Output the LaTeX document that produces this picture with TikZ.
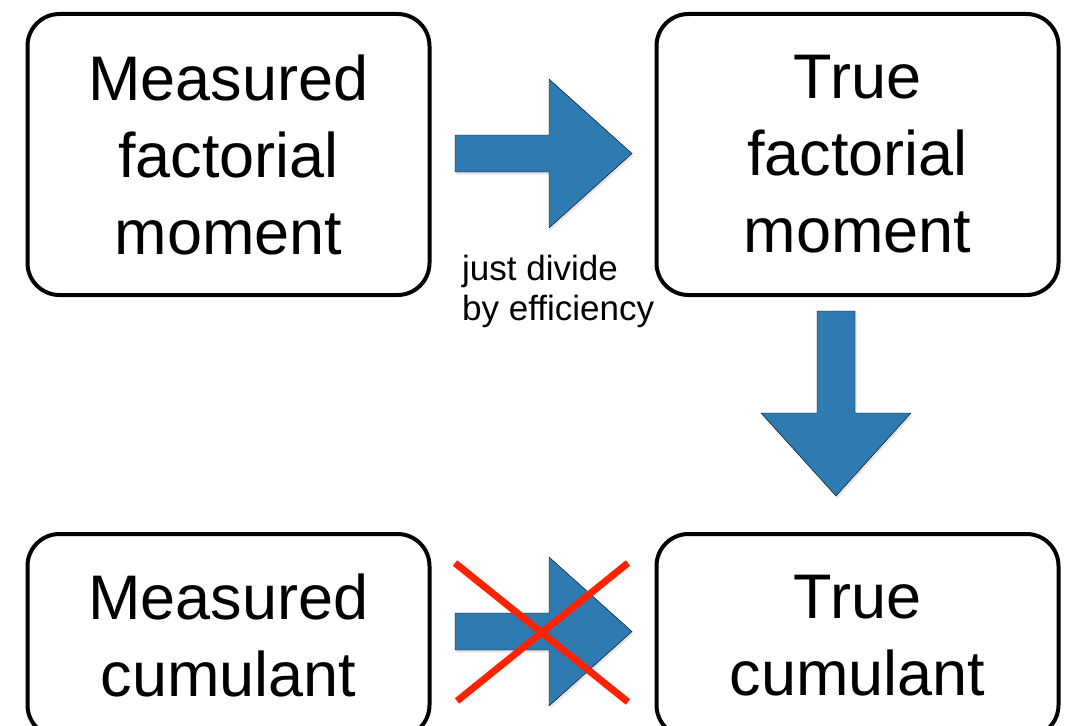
\documentclass[tikz,border=0pt]{standalone}
\usepackage{fontspec}
\setmainfont{Liberation Sans}
\usetikzlibrary{shadows}
\definecolor{arrowblue}{RGB}{46,123,178}
\definecolor{crossred}{RGB}{255,34,0}
\begin{document}
\begin{tikzpicture}[x=1pt,y=-1pt,
  box/.style={draw=black, line width=4pt, rounded corners=32pt,
    minimum width=402pt, align=center, inner sep=0pt,
    font=\fontsize{63}{77}\selectfont},
  tallbox/.style={box, minimum height=281pt},
  shortbox/.style={box, minimum height=203pt},
  blockarrow/.style={fill=arrowblue,
    drop shadow={shadow xshift=1.5pt, shadow yshift=-2.5pt, opacity=0.2}},
  cross/.style={draw=crossred, line width=7pt},
  note/.style={font=\fontsize{35}{40}\selectfont, align=left, inner sep=0pt}]
\useasboundingbox (0,0) rectangle (1070,725);

% the four quantities
\node[tallbox]  (mf) at (228.5,154.5) {Measured\\factorial\\moment};
\node[tallbox]  (tf) at (857.5,154.5) {True\\factorial\\moment};
\node[shortbox] (mc) at (228.5,635.5) {Measured\\cumulant};
\node[shortbox] (tc) at (857.5,635.5) {True\\cumulant};

% measured -> true factorial moment
\draw[blockarrow] (455,135) -- (549,135) -- (549,79) -- (632,153.5)
  -- (549,228) -- (549,172) -- (455,172) -- cycle;
\node[note, anchor=north west] (lbl) at (462,255) {just divide\\by efficiency};

% true factorial moment -> true cumulant
\draw[blockarrow] (817,311) -- (855,311) -- (855,413) -- (911,413)
  -- (836,496) -- (761,413) -- (817,413) -- cycle;

% measured -> true cumulant, crossed out
\draw[blockarrow] (455,613) -- (549,613) -- (549,557) -- (632,631.5)
  -- (549,706) -- (549,650) -- (455,650) -- cycle;
\coordinate (xa) at (455,563);
\coordinate (xb) at (628,702);
\coordinate (xc) at (457,701);
\coordinate (xd) at (628,563);
\draw[cross] (xa) -- (xb);
\draw[cross] (xc) -- (xd);
\end{tikzpicture}
\end{document}
